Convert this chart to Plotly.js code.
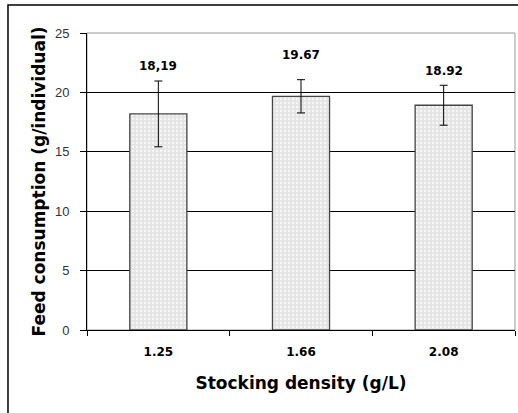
<!DOCTYPE html>
<html><head><meta charset="utf-8">
<script src="https://cdn.plot.ly/plotly-3.0.1.min.js"></script>
<style>html,body{margin:0;padding:0;background:#fff}#chart{width:518px;height:413px}</style>
</head><body><div id="chart"></div>
<script>
const categories = ["1.25", "1.66", "2.08"];
const means = [18.19, 19.67, 18.92];
const errors = [2.77, 1.4, 1.68];
const valueLabels = ["18,19", "19.67", "18.92"];

const BOLD = 'DejaVu Sans, Arial';
const labelShift = [15, 25, 14];

const trace = {
  type: 'bar',
  x: categories,
  y: means,
  width: 0.4,
  marker: {
    color: '#e6e6e6',
    line: {color: '#444', width: 1.3},
    pattern: {shape: '.', fgcolor: '#f7f7f7', bgcolor: '#e4e4e4', size: 4, solidity: 0.3}
  },
  error_y: {type: 'data', array: errors, visible: true, color: '#000', thickness: 1, width: 4},
  hoverinfo: 'none'
};

const annotations = categories.map((c, i) => ({
  x: i, y: means[i] + errors[i], xref: 'x', yref: 'y',
  text: valueLabels[i], showarrow: false, yanchor: 'middle', yshift: labelShift[i],
  font: {family: BOLD, size: 12, color: '#000', weight: 'bold'}
}));

const layout = {
  width: 518, height: 413,
  margin: {l: 87, r: 3, t: 33, b: 83},
  paper_bgcolor: '#fff', plot_bgcolor: '#fff',
  showlegend: false,
  font: {family: 'Liberation Sans, Arial', color: '#000'},
  xaxis: {
    type: 'category', tickson: 'boundaries', ticks: 'outside', ticklen: 5, tickcolor: '#000',
    showline: true, linecolor: '#000', linewidth: 1, showgrid: false,
    ticklabelstandoff: 11,
    tickfont: {family: BOLD, size: 12, color: '#000', weight: 'bold'},
    title: {text: 'Stocking density (g/L)', font: {family: BOLD, size: 17, weight: 'bold', color: '#000'}, standoff: 18},
    fixedrange: true
  },
  yaxis: {
    range: [0, 25], dtick: 5, tick0: 0, ticks: 'outside', ticklen: 6, tickcolor: '#000',
    showline: true, linecolor: '#000', linewidth: 1,
    showgrid: true, gridcolor: '#000', gridwidth: 1, zeroline: false,
    ticklabelstandoff: 8,
    tickfont: {size: 13, color: '#333'},
    title: {text: 'Feed consumption (g/individual)', font: {family: BOLD, size: 17, weight: 'bold', color: '#000'}, standoff: 4},
    fixedrange: true
  },
  shapes: [
    {type: 'rect', xref: 'paper', yref: 'paper', x0: 0, x1: 1, y0: 0, y1: 1,
     line: {color: '#999', width: 1}, layer: 'below'},
    {type: 'rect', xref: 'paper', yref: 'paper', x0: -0.1846, x1: 1.05, y0: -0.32, y1: 1.094,
     line: {color: '#000', width: 1.5}, layer: 'above'}
  ],
  annotations: annotations
};

Plotly.newPlot('chart', [trace], layout, {displayModeBar: false, staticPlot: true});
</script></body></html>
